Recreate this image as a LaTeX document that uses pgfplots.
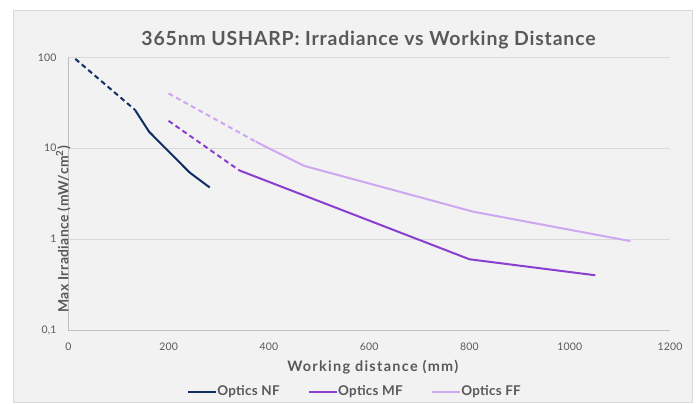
\documentclass[border=0pt]{standalone}
\usepackage{pgfplots}
\pgfplotsset{compat=1.18}
\usepackage{fontspec}
\setmainfont{Lato}
\definecolor{txt}{HTML}{595959}
\definecolor{bgc}{HTML}{F2F2F2}
\definecolor{brd}{HTML}{D9D9D9}
\definecolor{axl}{HTML}{BFBFBF}
\definecolor{nf}{HTML}{112D64}
\definecolor{mf}{HTML}{8B3FD0}
\definecolor{ff}{HTML}{CDA8F0}
\begin{document}
\begin{tikzpicture}
\begin{scope}[x=1bp,y=1bp]
\useasboundingbox (0,0) rectangle (696,403);
\fill[white] (0,0) rectangle (696,403);
\filldraw[fill=bgc,draw=brd,line width=0.8bp] (13,0.5) rectangle (692,393);
\node[anchor=base,text=txt,font=\fontsize{19.5}{21}\selectfont\bfseries\addfontfeatures{LetterSpace=4.3}] at (368.5,358) {365nm USHARP: Irradiance vs Working Distance};
\end{scope}
\begin{axis}[
  at={(68.3bp,73bp)}, anchor=south west,
  scale only axis, width=601.7bp, height=272.7bp,
  ymode=log, xmin=0, xmax=1200, ymin=0.1, ymax=100,
  xtick={0,200,400,600,800,1000,1200},
  xticklabels={0,200,400,600,800,1000,1200},
  ytick={0.1,1,10,100},
  yticklabels={{0,1},1,10,100},
  /pgf/number format/assume math mode=true,
  axis x line*=bottom, axis y line*=left,
  axis line style={draw=axl, line width=0.8bp, -},
  major tick length=0pt, minor tick length=0pt,
  ymajorgrids, major grid style={draw=brd, line width=0.8bp},
  yminorgrids=false,
  tick label style={text=txt, font=\fontsize{10.5}{12}\selectfont\addfontfeatures{LetterSpace=1.5}},
  xticklabel style={anchor=center, inner sep=0pt, yshift=-16.7bp},
  yticklabel style={anchor=east, inner sep=0pt, xshift=-11.6bp},
  xlabel={Working distance (mm)},
  xlabel style={at={(rel axis cs:0.506,0)}, anchor=base, yshift=-41bp, text=txt, font=\fontsize{14.5}{16}\selectfont\bfseries\addfontfeatures{LetterSpace=9}},
  ylabel={Max Irradiance (mW/cm\textsuperscript{2})},
  ylabel style={at={(rel axis cs:0,0.483)}, anchor=base, xshift=-31bp, text=txt, font=\fontsize{14}{16}\selectfont\bfseries\addfontfeatures{LetterSpace=3}},
  legend style={at={(rel axis cs:0.475,0)}, anchor=center, yshift=-61.7bp, draw=none, fill=none,
    legend columns=3, font=\fontsize{13.5}{14}\selectfont\bfseries\addfontfeatures{LetterSpace=2}, text=txt,
    /tikz/every even column/.append style={column sep=28bp},
    inner sep=0pt, nodes={inner sep=0.3bp}},
  legend image code/.code={\draw[#1] (0bp,0bp) -- (28bp,0bp);},
  clip=false,
]
\addplot[nf, line width=2bp, dash pattern=on 5bp off 3.5bp, forget plot] coordinates {(14,96) (133,26.4)};
\addplot[mf, line width=2bp, dash pattern=on 5bp off 3.5bp, forget plot] coordinates {(200,20) (341,5.7)};
\addplot[ff, line width=2bp, dash pattern=on 5bp off 3.5bp, forget plot] coordinates {(200,40) (374,11.8)};
\addplot[nf, line width=2bp] coordinates {(133,26.4) (161,15.2) (242,5.4) (282,3.7)};
\addlegendentry{Optics NF}
\addplot[mf, line width=2bp] coordinates {(341,5.7) (800,0.60) (1051,0.40)};
\addlegendentry{Optics MF}
\addplot[ff, line width=2bp] coordinates {(374,11.8) (470,6.4) (808,2.0) (1121,0.95)};
\addlegendentry{Optics FF}
\end{axis}
\end{tikzpicture}
\end{document}
